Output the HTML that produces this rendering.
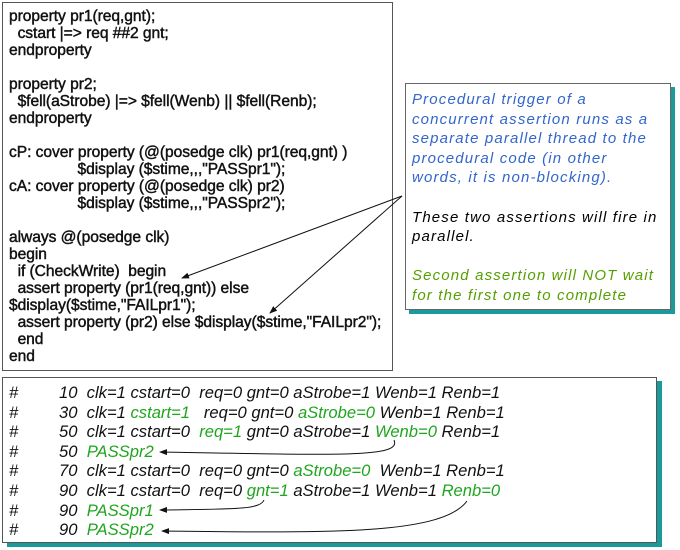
<!DOCTYPE html>
<html><head><meta charset="utf-8"><style>
body{margin:0;width:680px;height:550px;background:#fff;position:relative;overflow:hidden;font-family:"Liberation Sans",sans-serif}
.box1{position:absolute;left:2px;top:2px;width:389px;height:367px;border:1px solid #555;background:#fff}
.code{position:absolute;left:6px;top:5px;font-size:15.6px;line-height:17px;white-space:pre;color:#111;-webkit-text-stroke:0.45px #111;letter-spacing:-0.05px}
.call{position:absolute;left:405px;top:83px;width:264px;height:225px;border:1px solid #666;background:#fff;box-shadow:4px 4px 0 #1a9a9a}
.ct{position:absolute;left:6px;top:6px;font-size:15px;line-height:19.6px;font-style:italic;white-space:pre;letter-spacing:1.15px}
.box2{position:absolute;left:2px;top:377px;width:653px;height:164px;border:1px solid #555;background:#fff;box-shadow:5px 4px 0 #1a9a9a}
.out{position:absolute;left:6px;top:5px;font-size:16.6px;line-height:19.6px;font-style:italic;white-space:pre;color:#111;letter-spacing:0}
.n{position:absolute;left:56px}
.g{color:#1fa51f}
.b{color:#3366cc}
.gg{color:#55a000}
svg{position:absolute;left:0;top:0}
</style></head><body>
<div class="box1"><div class="code">property pr1(req,gnt);
  cstart |=> req ##2 gnt;
endproperty

property pr2;
  $fell(aStrobe) |=> $fell(Wenb) || $fell(Renb);
endproperty

cP: cover property (@(posedge clk) pr1(req,gnt) )
                $display ($stime,,,"PASSpr1");
cA: cover property (@(posedge clk) pr2)
                $display ($stime,,,"PASSpr2");

always @(posedge clk)
begin
  if (CheckWrite)  begin
  assert property (pr1(req,gnt)) else
$display($stime,"FAILpr1");
  assert property (pr2) else $display($stime,"FAILpr2");
  end
end</div></div>
<div class="call"><div class="ct"><span class="b">Procedural trigger of a
concurrent assertion runs as a
separate parallel thread to the
procedural code (in other
words, it is non-blocking).</span>

These two assertions will fire in
parallel.

<span class="gg">Second assertion will NOT wait
for the first one to complete</span></div></div>
<div class="box2"><div class="out">#
#
#
#
#
#
#
#</div><div class="out n">10  clk=1 cstart=0  req=0 gnt=0 aStrobe=1 Wenb=1 Renb=1
30  clk=1 <span class="g">cstart=1</span>   req=0 gnt=0 <span class="g">aStrobe=0</span> Wenb=1 Renb=1
50  clk=1 cstart=0  <span class="g">req=1</span> gnt=0 aStrobe=1 <span class="g">Wenb=0</span> Renb=1
50  <span class="g">PASSpr2</span>
70  clk=1 cstart=0  req=0 gnt=0 <span class="g">aStrobe=0</span>  Wenb=1 Renb=1
90  clk=1 cstart=0  req=0 <span class="g">gnt=1</span> aStrobe=1 Wenb=1 <span class="g">Renb=0</span>
90  <span class="g">PASSpr1</span>
90  <span class="g">PASSpr2</span></div></div>
<svg width="680" height="550">
<defs><marker id="a" markerWidth="8" markerHeight="6" refX="7" refY="3" orient="auto"><path d="M0,0L8,3L0,6z" fill="#111"/></marker></defs>
<g stroke="#111" stroke-width="1" fill="none" marker-end="url(#a)">
<line x1="402" y1="196" x2="182" y2="278"/>
<line x1="402" y1="196" x2="270" y2="313"/>
<path d="M394,440 C402,458 340,455 160,452"/>
<path d="M264,500 C260,510 232,509 160,510"/>
<path d="M467,501 C442,535 330,533 162,531" />
</g>
</svg>
</body></html>
